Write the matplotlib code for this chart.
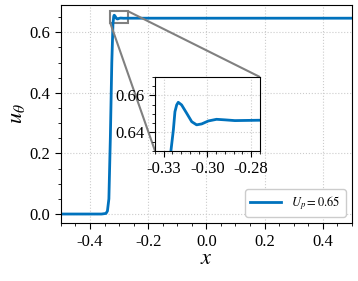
import numpy as np
import matplotlib
matplotlib.use("Agg")
import matplotlib.pyplot as plt
from matplotlib.ticker import MultipleLocator, FormatStrFormatter
from mpl_toolkits.axes_grid1.inset_locator import mark_inset

plt.rcParams['font.family'] = ['Liberation Serif', 'DejaVu Serif']
plt.rcParams['mathtext.fontset'] = 'stix'

# azimuthal velocity profile
x = np.array([-0.5, -0.36, -0.345, -0.34, -0.335, -0.33, -0.325, -0.3209,
              -0.3195, -0.3186, -0.3176, -0.3167, -0.3148, -0.3119, -0.309,
              -0.3062, -0.3033, -0.2995, -0.2948, -0.29, -0.2843, -0.27,
              -0.2, 0.0, 0.2, 0.5])
u = np.array([0.0, 0.0, 0.002, 0.01, 0.05, 0.25, 0.5, 0.63,
              0.6414, 0.6512, 0.6549, 0.6563, 0.6549, 0.6504, 0.6458,
              0.6441, 0.6446, 0.6462, 0.6471, 0.6468, 0.6464, 0.6466,
              0.6466, 0.6466, 0.6466, 0.6466])
label = r'$U_p=0.65$'
color = '#0072BD'

fig = plt.figure(figsize=(3.58, 2.81), dpi=100)
ax = fig.add_axes([0.170, 0.206, 0.813, 0.776])
ax.plot(x, u, color=color, lw=2, label=label)

ax.set_xlim(-0.5, 0.5)
ax.set_ylim(-0.03, 0.69)
ax.xaxis.set_major_locator(MultipleLocator(0.2))
ax.xaxis.set_minor_locator(MultipleLocator(0.05))
ax.yaxis.set_major_locator(MultipleLocator(0.2))
ax.yaxis.set_minor_locator(MultipleLocator(0.05))
ax.xaxis.set_major_formatter(FormatStrFormatter('%.1f'))
ax.yaxis.set_major_formatter(FormatStrFormatter('%.1f'))
ax.tick_params(which='both', direction='out', labelsize=12, top=False, right=False)
ax.tick_params(which='major', length=4)
ax.tick_params(which='minor', length=2)
ax.grid(True, ls=':', color='0.8', lw=0.8)
ax.set_xlabel('$x$', fontsize=16, labelpad=0)
ax.set_ylabel(r'$u_\theta$', fontsize=16, labelpad=2)
ax.legend(loc='lower right', fontsize=9, framealpha=1, edgecolor='0.8',
          handlelength=2.5)

# zoomed view of the overshoot
axins = fig.add_axes([0.433, 0.463, 0.293, 0.263])
axins.plot(x, u, color=color, lw=2)
axins.set_xlim(-0.33, -0.27)
axins.set_ylim(0.63, 0.67)
axins.set_xticks([-0.325, -0.3, -0.275])
axins.xaxis.set_major_formatter(FormatStrFormatter('%.2f'))
axins.xaxis.set_minor_locator(MultipleLocator(0.005))
axins.yaxis.set_major_locator(MultipleLocator(0.02))
axins.yaxis.set_minor_locator(MultipleLocator(0.005))
axins.yaxis.set_major_formatter(FormatStrFormatter('%.2f'))
axins.tick_params(which='both', direction='out', labelsize=12, top=False, right=False)
axins.tick_params(which='major', length=4)
axins.tick_params(which='minor', length=2)
axins.grid(True, ls=':', color='0.8', lw=0.8)
mark_inset(ax, axins, loc1=1, loc2=3, fc='none', ec='0.5', lw=1.5)

fig.savefig('out.png', dpi=100)
